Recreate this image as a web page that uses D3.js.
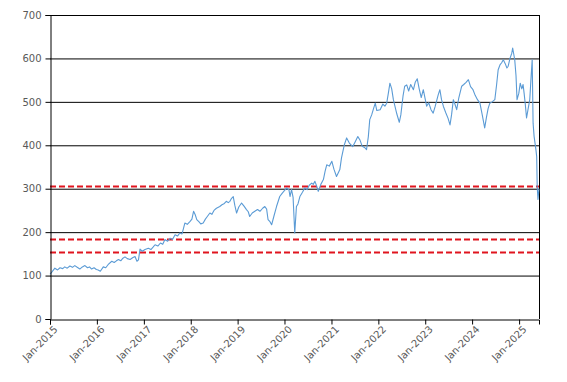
<!DOCTYPE html>
<html>
<head>
<meta charset="utf-8">
<script src="https://cdn.jsdelivr.net/npm/d3@7"></script>
<style>
  body { margin: 0; background: #fff; }
  svg { display: block; }
  .tick text { font-family: "DejaVu Sans", Verdana, sans-serif; font-size: 10px; fill: #595959; }
</style>
</head>
<body>
<svg id="chart" width="567" height="382"></svg>
<script>
// ---- data ----
const dates = [
  "2015-01-01","2015-01-15","2015-02-08","2015-03-01","2015-03-20","2015-04-10","2015-04-26","2015-05-15","2015-06-05","2015-06-25","2015-07-13","2015-08-01","2015-08-21","2015-09-10","2015-09-30","2015-10-20","2015-11-05","2015-11-21","2015-12-10","2015-12-28",
  "2016-01-11","2016-01-28","2016-02-20","2016-03-10","2016-03-28","2016-04-26","2016-05-15","2016-06-01","2016-06-17","2016-07-05","2016-07-22","2016-08-07","2016-08-25","2016-09-16","2016-10-05","2016-10-24","2016-11-08","2016-11-20","2016-12-02","2016-12-20",
  "2017-01-10","2017-02-05","2017-02-25","2017-03-15","2017-03-29","2017-04-20","2017-05-10","2017-05-28","2017-06-14","2017-07-05","2017-07-25","2017-08-12","2017-09-01","2017-09-20","2017-10-08","2017-10-25","2017-11-03","2017-11-16","2017-12-05","2017-12-27",
  "2018-01-10","2018-01-23","2018-02-05","2018-02-17","2018-03-05","2018-03-20","2018-04-08","2018-04-25","2018-05-10","2018-05-30","2018-06-15","2018-07-01","2018-07-20","2018-08-15","2018-09-01","2018-09-20","2018-10-05","2018-10-20","2018-11-02","2018-11-15","2018-11-28","2018-12-10","2018-12-24",
  "2019-01-10","2019-02-01","2019-02-20","2019-03-11","2019-03-25","2019-04-05","2019-04-25","2019-05-15","2019-06-05","2019-06-24","2019-07-15","2019-08-01","2019-08-15","2019-08-26","2019-09-10","2019-09-23","2019-10-10","2019-10-31","2019-11-25","2019-12-15",
  "2020-01-02","2020-01-18","2020-02-05","2020-02-13","2020-02-25","2020-03-08","2020-03-21","2020-04-03","2020-04-15","2020-04-30","2020-05-20","2020-06-08","2020-06-25","2020-07-12","2020-07-31","2020-08-12","2020-08-25","2020-09-08","2020-09-20","2020-10-10","2020-10-30","2020-11-12","2020-11-25","2020-12-15",
  "2021-01-04","2021-01-20","2021-02-09","2021-02-25","2021-03-07","2021-03-20","2021-04-10","2021-04-29","2021-05-20","2021-06-16","2021-07-05","2021-07-25","2021-08-11","2021-08-28","2021-09-15","2021-10-01","2021-10-15","2021-10-26","2021-11-10","2021-11-25","2021-12-08","2021-12-20",
  "2022-01-15","2022-02-05","2022-02-21","2022-03-07","2022-03-20","2022-04-01","2022-04-15","2022-04-28","2022-05-10","2022-05-25","2022-06-13","2022-06-25","2022-07-12","2022-07-25","2022-08-10","2022-08-25","2022-09-10","2022-10-01","2022-10-15","2022-10-31","2022-11-15","2022-12-01","2022-12-17",
  "2023-01-12","2023-01-28","2023-02-15","2023-03-04","2023-03-20","2023-04-12","2023-04-25","2023-05-08","2023-05-22","2023-06-10","2023-06-28","2023-07-13","2023-07-25","2023-08-08","2023-08-20","2023-09-03","2023-09-20","2023-10-12","2023-10-28","2023-11-15","2023-12-03","2023-12-20",
  "2024-01-08","2024-01-25","2024-02-12","2024-03-02","2024-03-20","2024-04-08","2024-04-22","2024-05-05","2024-05-18","2024-06-05","2024-06-26","2024-07-10","2024-07-22","2024-08-05","2024-08-18","2024-08-31","2024-09-15","2024-09-28","2024-10-08","2024-10-22","2024-11-05","2024-11-12","2024-11-28","2024-12-08","2024-12-16","2024-12-30",
  "2025-01-10","2025-01-22","2025-02-01","2025-02-09","2025-02-18","2025-02-28","2025-03-10","2025-03-25","2025-04-05","2025-04-13","2025-04-20","2025-04-28","2025-05-05","2025-05-12","2025-05-18","2025-05-22","2025-05-28","2025-06-05"
];
const values = [
  103,108,117,113,118,116,120,117,122,119,123,119,115,120,123,118,120,115,118,114,
  113,110,120,118,125,133,130,134,137,134,140,143,139,137,141,144,133,136,161,156,
  160,163,160,166,171,168,175,172,183,179,186,183,194,191,198,196,206,221,218,225,
  230,248,240,229,224,219,221,230,236,244,241,250,255,259,263,266,271,268,271,278,282,262,244,
  258,267,260,252,247,236,244,248,252,248,255,259,253,229,224,217,236,259,282,290,
  296,302,297,282,298,280,198,259,265,282,292,302,298,308,313,310,317,306,294,310,321,340,355,352,
  363,345,328,338,344,371,400,417,405,397,408,420,412,398,395,390,420,459,470,485,497,480,
  482,495,490,497,520,543,530,505,490,472,453,470,513,536,539,525,540,528,545,553,530,510,528,
  490,498,482,474,490,516,528,505,490,475,462,447,470,505,495,482,510,536,540,545,551,535,
  528,515,505,497,470,440,465,485,497,500,505,540,574,585,590,597,588,578,582,600,612,624,597,560,505,520,
  543,530,540,520,495,463,480,505,560,597,451,420,405,390,374,305,275,300
];
const refLevels = [305, 183, 153];
const yTickValues = [0, 100, 200, 300, 400, 500, 600, 700];

// ---- layout ----
const W = 567, H = 382;
const margin = { top: 15, right: 28, bottom: 63, left: 50 };
const iw = W - margin.left - margin.right;
const ih = H - margin.top - margin.bottom;

const parse = d3.timeParse("%Y-%m-%d");
const data = dates.map((d, i) => ({ date: parse(d), value: values[i] }));

const svg = d3.select("#chart");
const g = svg.append("g").attr("transform", `translate(${margin.left},${margin.top})`);

const x = d3.scaleTime()
  .domain([parse("2015-01-01"), d3.max(data, d => d.date)])
  .range([0, iw]);
const y = d3.scaleLinear().domain([0, 700]).range([ih, 0]);

// gridlines
g.append("g")
  .selectAll("line")
  .data(yTickValues.filter(v => v > 0))
  .join("line")
  .attr("x1", 0).attr("x2", iw)
  .attr("y1", d => y(d) + 0.5).attr("y2", d => y(d) + 0.5)
  .attr("stroke", "#000").attr("stroke-width", 1);

// right border
g.append("line")
  .attr("x1", iw + 0.5).attr("x2", iw + 0.5)
  .attr("y1", 0).attr("y2", ih)
  .attr("stroke", "#000").attr("stroke-width", 1);

// reference dashed lines
g.append("g")
  .selectAll("line")
  .data(refLevels)
  .join("line")
  .attr("x1", 0).attr("x2", iw)
  .attr("y1", d => y(d)).attr("y2", d => y(d))
  .attr("stroke", "#e0141e").attr("stroke-width", 2)
  .attr("stroke-dasharray", "6,3");

// series line
const line = d3.line().x(d => x(d.date)).y(d => y(d.value));
g.append("path")
  .datum(data)
  .attr("fill", "none")
  .attr("stroke", "#5b9bd5")
  .attr("stroke-width", 1.1)
  .attr("stroke-linejoin", "round")
  .attr("d", line);

// axes
const yAxis = g.append("g")
  .attr("transform", "translate(0.5,0)")
  .call(d3.axisLeft(y).tickValues(yTickValues).tickSize(5).tickPadding(4).tickFormat(d3.format("d")));
yAxis.select(".domain").attr("stroke", "#000");
yAxis.selectAll(".tick line").attr("stroke", "#000");

const xAxis = g.append("g")
  .attr("transform", `translate(0,${ih + 0.5})`)
  .call(d3.axisBottom(x).ticks(d3.timeYear.every(1)).tickSize(5).tickFormat(d3.timeFormat("Jan-%Y")));
xAxis.select(".domain").attr("stroke", "#000");
xAxis.selectAll(".tick line").attr("stroke", "#000");
xAxis.selectAll(".tick text")
  .attr("text-anchor", "end")
  .attr("dx", "-0.2em")
  .attr("dy", "0.5em")
  .attr("transform", "rotate(-45)");
</script>
</body>
</html>
